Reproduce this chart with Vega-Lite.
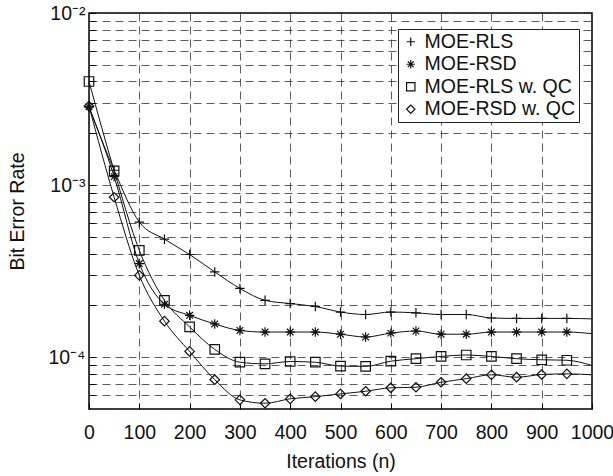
{
  "$schema": "https://vega.github.io/schema/vega-lite/v6.json",
  "width": 503,
  "height": 396,
  "autosize": {"type": "none"},
  "padding": {"left": 89, "top": 13, "right": 21, "bottom": 67},
  "background": "white",
  "config": {
    "view": {"stroke": "#000", "strokeWidth": 1.5},
    "font": "Liberation Sans",
    "axis": {
      "labelFont": "Liberation Sans",
      "titleFont": "Liberation Sans",
      "labelColor": "#111",
      "titleColor": "#111",
      "labelFontSize": 19.5,
      "titleFontSize": 19.5,
      "titleFontWeight": "normal",
      "domain": false,
      "gridColor": "#333",
      "gridDash": [8, 5],
      "gridWidth": 0.8,
      "gridOpacity": 1,
      "tickColor": "#000",
      "tickSize": -6,
      "tickWidth": 1
    },
    "legend": {
      "labelFont": "Liberation Sans",
      "labelFontSize": 19.5,
      "labelColor": "#111"
    }
  },
  "data": {
    "values": [
      {"n": 0, "ber": 0.00285, "s": "MOE-RLS"},
      {"n": 50, "ber": 0.00122, "s": "MOE-RLS"},
      {"n": 100, "ber": 0.00061, "s": "MOE-RLS"},
      {"n": 150, "ber": 0.000485, "s": "MOE-RLS"},
      {"n": 200, "ber": 0.000395, "s": "MOE-RLS"},
      {"n": 250, "ber": 0.000313, "s": "MOE-RLS"},
      {"n": 300, "ber": 0.000251, "s": "MOE-RLS"},
      {"n": 350, "ber": 0.000214, "s": "MOE-RLS"},
      {"n": 400, "ber": 0.000205, "s": "MOE-RLS"},
      {"n": 450, "ber": 0.000197, "s": "MOE-RLS"},
      {"n": 500, "ber": 0.000183, "s": "MOE-RLS"},
      {"n": 550, "ber": 0.000177, "s": "MOE-RLS"},
      {"n": 600, "ber": 0.000183, "s": "MOE-RLS"},
      {"n": 650, "ber": 0.000181, "s": "MOE-RLS"},
      {"n": 700, "ber": 0.000177, "s": "MOE-RLS"},
      {"n": 750, "ber": 0.000177, "s": "MOE-RLS"},
      {"n": 800, "ber": 0.000169, "s": "MOE-RLS"},
      {"n": 850, "ber": 0.000168, "s": "MOE-RLS"},
      {"n": 900, "ber": 0.000168, "s": "MOE-RLS"},
      {"n": 950, "ber": 0.000168, "s": "MOE-RLS"},
      {"n": 1000, "ber": 0.000167, "s": "MOE-RLS"},
      {"n": 0, "ber": 0.00285, "s": "MOE-RSD"},
      {"n": 50, "ber": 0.00112, "s": "MOE-RSD"},
      {"n": 100, "ber": 0.00035, "s": "MOE-RSD"},
      {"n": 150, "ber": 0.000203, "s": "MOE-RSD"},
      {"n": 200, "ber": 0.000175, "s": "MOE-RSD"},
      {"n": 250, "ber": 0.000156, "s": "MOE-RSD"},
      {"n": 300, "ber": 0.000143, "s": "MOE-RSD"},
      {"n": 350, "ber": 0.00014, "s": "MOE-RSD"},
      {"n": 400, "ber": 0.00014, "s": "MOE-RSD"},
      {"n": 450, "ber": 0.00014, "s": "MOE-RSD"},
      {"n": 500, "ber": 0.000136, "s": "MOE-RSD"},
      {"n": 550, "ber": 0.000131, "s": "MOE-RSD"},
      {"n": 600, "ber": 0.000138, "s": "MOE-RSD"},
      {"n": 650, "ber": 0.000142, "s": "MOE-RSD"},
      {"n": 700, "ber": 0.000136, "s": "MOE-RSD"},
      {"n": 750, "ber": 0.000136, "s": "MOE-RSD"},
      {"n": 800, "ber": 0.00014, "s": "MOE-RSD"},
      {"n": 850, "ber": 0.00014, "s": "MOE-RSD"},
      {"n": 900, "ber": 0.00014, "s": "MOE-RSD"},
      {"n": 950, "ber": 0.00014, "s": "MOE-RSD"},
      {"n": 1000, "ber": 0.000137, "s": "MOE-RSD"},
      {"n": 0, "ber": 0.004, "s": "MOE-RLS w. QC"},
      {"n": 50, "ber": 0.00121, "s": "MOE-RLS w. QC"},
      {"n": 100, "ber": 0.000418, "s": "MOE-RLS w. QC"},
      {"n": 150, "ber": 0.000214, "s": "MOE-RLS w. QC"},
      {"n": 200, "ber": 0.00015, "s": "MOE-RLS w. QC"},
      {"n": 250, "ber": 0.000111, "s": "MOE-RLS w. QC"},
      {"n": 300, "ber": 0.0000935, "s": "MOE-RLS w. QC"},
      {"n": 350, "ber": 0.0000915, "s": "MOE-RLS w. QC"},
      {"n": 400, "ber": 0.0000944, "s": "MOE-RLS w. QC"},
      {"n": 450, "ber": 0.0000935, "s": "MOE-RLS w. QC"},
      {"n": 500, "ber": 0.0000887, "s": "MOE-RLS w. QC"},
      {"n": 550, "ber": 0.0000884, "s": "MOE-RLS w. QC"},
      {"n": 600, "ber": 0.0000948, "s": "MOE-RLS w. QC"},
      {"n": 650, "ber": 0.000098, "s": "MOE-RLS w. QC"},
      {"n": 700, "ber": 0.000101, "s": "MOE-RLS w. QC"},
      {"n": 750, "ber": 0.000103, "s": "MOE-RLS w. QC"},
      {"n": 800, "ber": 0.000101, "s": "MOE-RLS w. QC"},
      {"n": 850, "ber": 0.000098, "s": "MOE-RLS w. QC"},
      {"n": 900, "ber": 0.0000966, "s": "MOE-RLS w. QC"},
      {"n": 950, "ber": 0.000096, "s": "MOE-RLS w. QC"},
      {"n": 1000, "ber": 0.0000895, "s": "MOE-RLS w. QC"},
      {"n": 0, "ber": 0.00288, "s": "MOE-RSD w. QC"},
      {"n": 50, "ber": 0.00085, "s": "MOE-RSD w. QC"},
      {"n": 100, "ber": 0.000299, "s": "MOE-RSD w. QC"},
      {"n": 150, "ber": 0.000162, "s": "MOE-RSD w. QC"},
      {"n": 200, "ber": 0.000108, "s": "MOE-RSD w. QC"},
      {"n": 250, "ber": 0.000074, "s": "MOE-RSD w. QC"},
      {"n": 300, "ber": 0.0000565, "s": "MOE-RSD w. QC"},
      {"n": 350, "ber": 0.000054, "s": "MOE-RSD w. QC"},
      {"n": 400, "ber": 0.0000573, "s": "MOE-RSD w. QC"},
      {"n": 450, "ber": 0.000059, "s": "MOE-RSD w. QC"},
      {"n": 500, "ber": 0.0000612, "s": "MOE-RSD w. QC"},
      {"n": 550, "ber": 0.0000634, "s": "MOE-RSD w. QC"},
      {"n": 600, "ber": 0.0000664, "s": "MOE-RSD w. QC"},
      {"n": 650, "ber": 0.0000669, "s": "MOE-RSD w. QC"},
      {"n": 700, "ber": 0.0000715, "s": "MOE-RSD w. QC"},
      {"n": 750, "ber": 0.000075, "s": "MOE-RSD w. QC"},
      {"n": 800, "ber": 0.000079, "s": "MOE-RSD w. QC"},
      {"n": 850, "ber": 0.0000765, "s": "MOE-RSD w. QC"},
      {"n": 900, "ber": 0.0000793, "s": "MOE-RSD w. QC"},
      {"n": 950, "ber": 0.00008, "s": "MOE-RSD w. QC"},
      {"n": 1000, "ber": 0.000079, "s": "MOE-RSD w. QC"}
    ]
  },
  "encoding": {
    "x": {
      "field": "n",
      "type": "quantitative",
      "scale": {"domain": [0, 1000], "nice": false, "zero": false},
      "axis": {
        "values": [0, 100, 200, 300, 400, 500, 600, 700, 800, 900, 1000],
        "format": "d",
        "title": "Iterations (n)",
        "labelPadding": 20,
        "titlePadding": 11,
        "labelFlush": false,
        "labelOverlap": false
      }
    },
    "y": {
      "field": "ber",
      "type": "quantitative",
      "scale": {"type": "log", "domain": [0.00005, 0.01], "nice": false},
      "axis": {
        "values": [0.00006, 0.00007, 0.00008, 0.00009, 0.0001, 0.0002, 0.0003, 0.0004, 0.0005, 0.0006, 0.0007, 0.0008, 0.0009, 0.001, 0.002, 0.003, 0.004, 0.005, 0.006, 0.007, 0.008, 0.009, 0.01],
        "labelExpr": "datum.value === 0.01 ? '10⁻²' : datum.value === 0.001 ? '10⁻³' : datum.value === 0.0001 ? '10⁻⁴' : ''",
        "title": "Bit Error Rate",
        "labelPadding": 10,
        "titlePadding": 20,
        "labelOverlap": false,
        "labelFlush": false
      }
    }
  },
  "layer": [
    {
      "mark": {"type": "line", "color": "#111", "strokeWidth": 1, "interpolate": "monotone"},
      "encoding": {"detail": {"field": "s"}}
    },
    {
      "transform": [{"filter": "datum.n < 1000"}],
      "mark": {"type": "point", "filled": false, "color": "#111", "strokeWidth": 1.2, "size": 90, "opacity": 1},
      "encoding": {
        "shape": {
          "field": "s",
          "type": "nominal",
          "scale": {
            "domain": ["MOE-RLS", "MOE-RSD", "MOE-RLS w. QC", "MOE-RSD w. QC"],
            "range": ["M-1,0H1M0,-1V1", "M-1,0H1M0,-1V1M-0.7,-0.7L0.7,0.7M-0.7,0.7L0.7,-0.7", "square", "diamond"]
          },
          "legend": {
            "title": null,
            "orient": "none",
            "legendX": 309,
            "legendY": 16,
            "strokeColor": "#222",
            "fillColor": "white",
            "padding": 3,
            "rowPadding": 1.5,
            "symbolSize": 70,
            "symbolStrokeColor": "#111",
            "symbolStrokeWidth": 1.2,
            "symbolOffset": 0,
            "labelOffset": 4
          }
        }
      }
    }
  ]
}
